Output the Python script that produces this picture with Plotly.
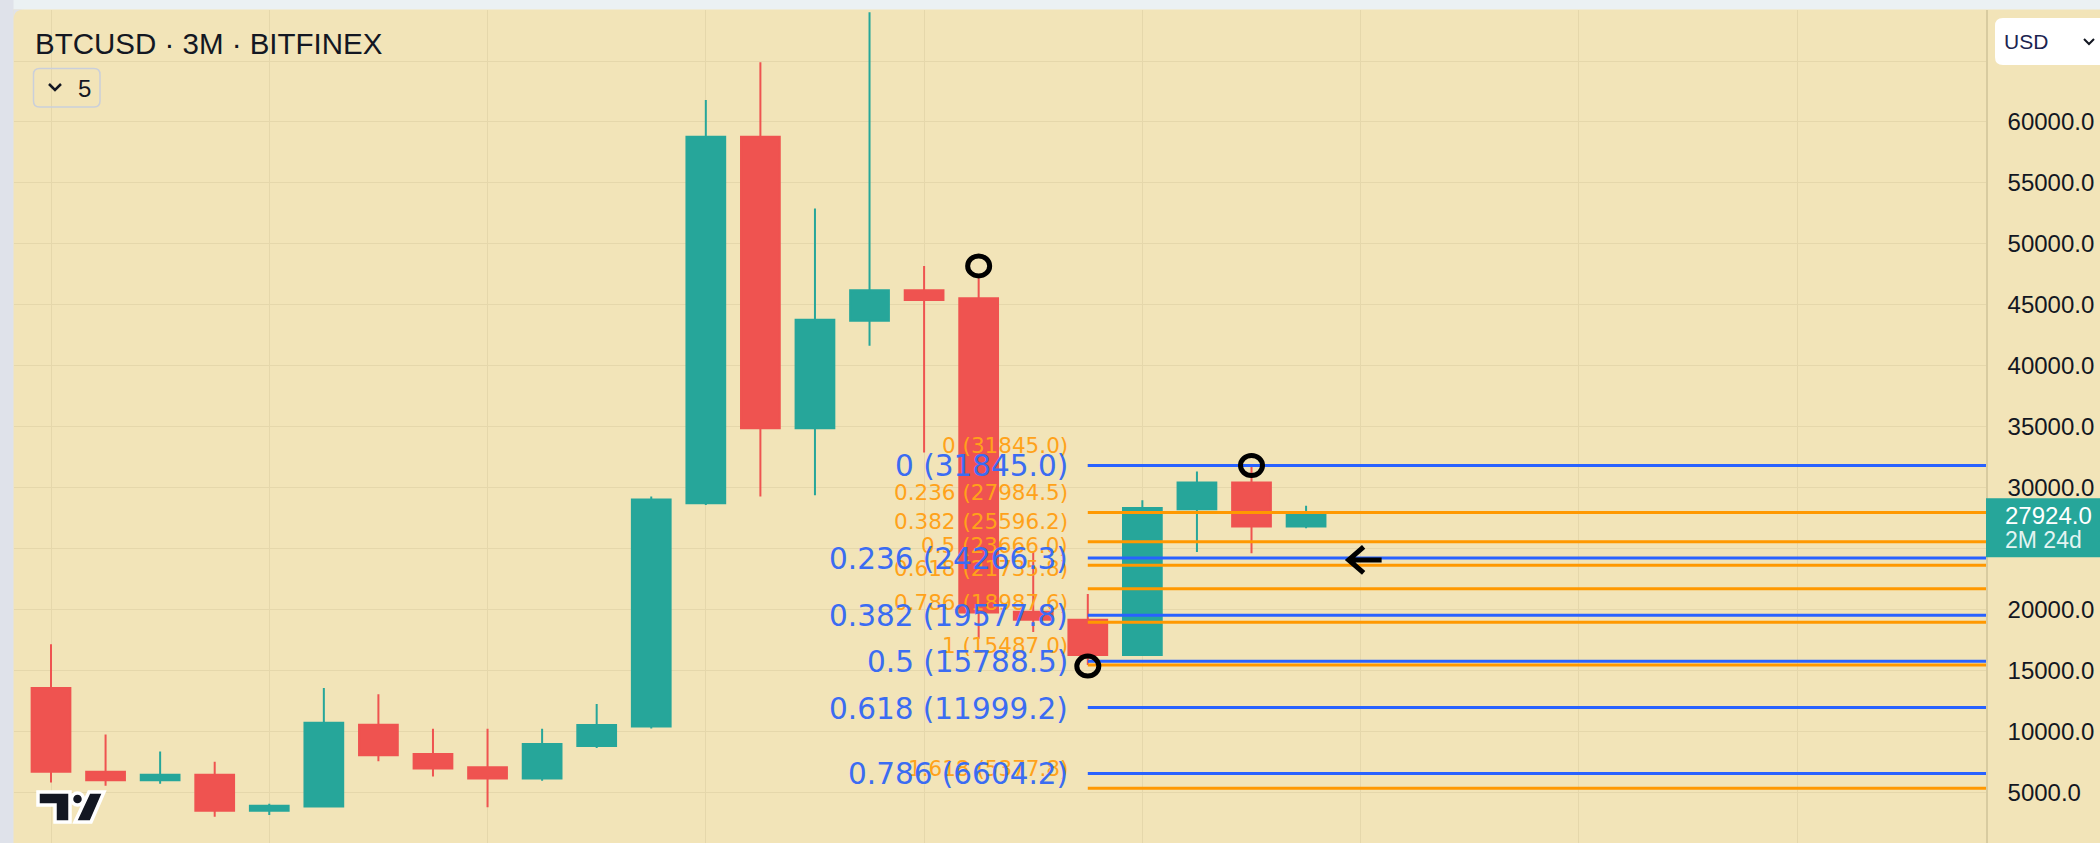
import plotly.graph_objects as go

# ---------------- data ----------------
quarters = ["2018 Q1", "2018 Q2", "2018 Q3", "2018 Q4", "2019 Q1", "2019 Q2", "2019 Q3", "2019 Q4",
            "2020 Q1", "2020 Q2", "2020 Q3", "2020 Q4", "2021 Q1", "2021 Q2", "2021 Q3", "2021 Q4",
            "2022 Q1", "2022 Q2", "2022 Q3", "2022 Q4", "2023 Q1", "2023 Q2", "2023 Q3", "2023 Q4"]
opens = [13600, 6750, 6050, 6500, 3550, 3900, 10600, 8200,
         7100, 6180, 8850, 10450, 28750, 58800, 34900, 43700,
         46200, 45550, 19850, 19200, 16300, 28250, 30450, 26850]
highs = [17200, 9800, 8400, 7550, 4120, 13600, 13100, 10270,
         10270, 10270, 12300, 29300, 61800, 64900, 52900, 69000,
         48200, 47200, 24800, 21300, 29000, 31350, 31845, 28550]
lows = [5850, 5600, 5750, 3050, 3200, 3880, 7600, 6350,
        3830, 6010, 8690, 10280, 28600, 29300, 29400, 41650,
        32900, 17650, 18200, 15487, 16300, 24750, 24650, 26700]
closes = [6750, 6050, 6500, 3550, 3950, 10750, 8100, 7000,
          6180, 9020, 10580, 29050, 58800, 34900, 43800, 46200,
          45400, 19800, 19200, 16300, 28350, 30450, 26850, 27924]
bar_countdown = "2M 24d"

# Fibonacci retracement drawings (ratio label, price level) as printed on the chart
fib_blue_ratios = ["0", "0.236", "0.382", "0.5", "0.618", "0.786"]
fib_blue_levels = [31845.0, 24266.3, 19577.8, 15788.5, 11999.2, 6604.2]
fib_orange_ratios = ["0", "0.236", "0.382", "0.5", "0.618", "0.786", "1", "1.618"]
fib_orange_levels = [31845.0, 27984.5, 25596.2, 23666.0, 21735.8, 18987.6, 15487.0, 5377.8]
fib_anchor_index = 19          # drawing starts at the 2022 Q4 candle

# hand-drawn circle marks (candle index, price)
circle_marks_x = [17, 19, 22]
circle_marks_y = [48200, 15400, 31845]
arrow_mark = (24, 24100)

y_tick_vals = [5000, 10000, 15000, 20000, 25000, 30000, 35000, 40000, 45000, 50000, 55000, 60000, 65000]
y_tick_text = ["5000.0", "10000.0", "15000.0", "20000.0", "25000.0", "30000.0", "35000.0",
               "40000.0", "45000.0", "50000.0", "55000.0", "60000.0", ""]

# ---------------- style ----------------
W, H = 2100, 843
ML, MR, MT, MB = 14, 114, 10, 0
PW, PH = W - ML - MR, H - MT - MB
GREEN, RED = "#26A69A", "#EF5350"
YELLOW = "#F2E4B8"
GRID = "#E5D7AB"
AXLINE = "#D8CBA0"
BLUE, BLUE_TXT = "#2962FF", "#3B6CF2"
ORANGE, ORANGE_TXT = "#FF9800", "#FFA21A"
TXT = "#131722"
X_RANGE = [-0.678, 35.46]
Y_RANGE = [900, 69180]


def px(x):
    return (x - ML) / PW


def py(y):
    return 1 - (y - MT) / PH


def pt(x, y):
    return f"{px(x):.5f},{py(y):.5f}"


def rrect(x0, y0, x1, y1, r):
    return (f"M {pt(x0 + r, y0)} L {pt(x1 - r, y0)} Q {pt(x1, y0)} {pt(x1, y0 + r)} "
            f"L {pt(x1, y1 - r)} Q {pt(x1, y1)} {pt(x1 - r, y1)} L {pt(x0 + r, y1)} "
            f"Q {pt(x0, y1)} {pt(x0, y1 - r)} L {pt(x0, y0 + r)} Q {pt(x0, y0)} {pt(x0 + r, y0)} Z")


def poly(points):
    return "M " + " L ".join(pt(x, y) for x, y in points) + " Z"


xi = list(range(len(quarters)))

fig = go.Figure()
fig.add_trace(go.Candlestick(
    x=xi, open=opens, high=highs, low=lows, close=closes,
    increasing=dict(line=dict(color=GREEN, width=2), fillcolor=GREEN),
    decreasing=dict(line=dict(color=RED, width=2), fillcolor=RED),
    whiskerwidth=0, hoverinfo="skip", showlegend=False, text=quarters,
))

shapes = []
annotations = []

# page frame strips
shapes.append(dict(type="rect", xref="paper", yref="paper", x0=px(0), x1=px(W), y0=py(0), y1=py(9.5),
                   fillcolor="#EBF1F3", line=dict(width=0), layer="above"))
shapes.append(dict(type="rect", xref="paper", yref="paper", x0=px(0), x1=px(13.5), y0=py(0), y1=py(H),
                   fillcolor="#DFE2EA", line=dict(width=0), layer="above"))
shapes.append(dict(type="path", xref="paper", yref="paper",
                   path=f"M {pt(13.5, 20)} L {pt(13.5, 9.5)} L {pt(24, 9.5)} Q {pt(13.5, 9.5)} {pt(13.5, 20)} Z",
                   fillcolor="#DFE2EA", line=dict(width=0), layer="above"))

# fib lines: orange first, blue on top
for lv in fib_orange_levels:
    shapes.append(dict(type="line", xref="x", yref="y", x0=fib_anchor_index, x1=X_RANGE[1], y0=lv, y1=lv,
                       line=dict(color=ORANGE, width=3), layer="above"))
for lv in fib_blue_levels:
    shapes.append(dict(type="line", xref="x", yref="y", x0=fib_anchor_index, x1=X_RANGE[1], y0=lv, y1=lv,
                       line=dict(color=BLUE, width=3), layer="above"))

for r, lv in zip(fib_orange_ratios, fib_orange_levels):
    annotations.append(dict(x=fib_anchor_index, y=lv, xref="x", yref="y", xanchor="right", yanchor="middle",
                            xshift=-18, yshift=20, showarrow=False, text=f"{r} ({lv:.1f})",
                            font=dict(family="DejaVu Sans", size=21.5, color=ORANGE_TXT)))
for r, lv in zip(fib_blue_ratios, fib_blue_levels):
    annotations.append(dict(x=fib_anchor_index, y=lv, xref="x", yref="y", xanchor="right", yanchor="middle",
                            xshift=-18, yshift=-1, showarrow=False, text=f"{r} ({lv:.1f})",
                            font=dict(family="DejaVu Sans", size=29.5, color=BLUE_TXT)))

# hand-drawn circles
for cx, cy in zip(circle_marks_x, circle_marks_y):
    shapes.append(dict(type="circle", xref="x", yref="y", xsizemode="pixel", ysizemode="pixel",
                       xanchor=cx, yanchor=cy, x0=-11, x1=11, y0=-10, y1=10,
                       line=dict(color="black", width=5), fillcolor="rgba(0,0,0,0)", layer="above"))

# hand-drawn arrow
shapes.append(dict(type="path", xref="x", yref="y", xsizemode="pixel", ysizemode="pixel",
                   xanchor=arrow_mark[0], yanchor=arrow_mark[1],
                   path="M 3,13 L -12,0 L 3,-13 M -12,0 L 21,0",
                   line=dict(color="black", width=5), layer="above"))

# last price label
shapes.append(dict(type="rect", xref="paper", yref="y", ysizemode="pixel", yanchor=closes[-1],
                   x0=px(1986), x1=px(W + 5), y0=-44, y1=15,
                   fillcolor=GREEN, line=dict(width=0), layer="above"))
annotations.append(dict(x=px(2003), y=closes[-1], xref="paper", yref="y", xanchor="left", yanchor="middle",
                        yshift=-2, showarrow=False, text=f"{closes[-1]:.1f}",
                        font=dict(family="Liberation Sans", size=24, color="#FFFFFF")))
annotations.append(dict(x=px(2003), y=closes[-1], xref="paper", yref="y", xanchor="left", yanchor="middle",
                        yshift=-27, showarrow=False, text=bar_countdown,
                        font=dict(family="Liberation Sans", size=23, color="#E3F4F2")))

# USD button
shapes.append(dict(type="path", xref="paper", yref="paper", path=rrect(1995, 18, 2112, 65, 8),
                   fillcolor="#FFFFFF", line=dict(width=0), layer="above"))
shapes.append(dict(type="path", xref="paper", yref="paper",
                   path=f"M {pt(2084, 39)} L {pt(2089, 44)} L {pt(2094, 39)}",
                   line=dict(color=TXT, width=2), layer="above"))
annotations.append(dict(x=px(2002), y=py(42), xref="paper", yref="paper", xanchor="left", yanchor="middle",
                        showarrow=False, text="USD", font=dict(family="Liberation Sans", size=21, color="#1B2450")))

# title and indicator toggle
annotations.append(dict(x=px(33), y=py(43), xref="paper", yref="paper", xanchor="left", yanchor="middle",
                        showarrow=False, text="BTCUSD · 3M · BITFINEX",
                        font=dict(family="Liberation Sans", size=29.5, color=TXT)))
shapes.append(dict(type="path", xref="paper", yref="paper", path=rrect(33.5, 68.5, 100, 107, 6),
                   fillcolor="rgba(0,0,0,0)", line=dict(color="#CACFDA", width=1.5), layer="above"))
shapes.append(dict(type="path", xref="paper", yref="paper",
                   path=f"M {pt(49, 84)} L {pt(55, 90)} L {pt(61, 84)}",
                   line=dict(color=TXT, width=2.5), layer="above"))
annotations.append(dict(x=px(84), y=py(88), xref="paper", yref="paper", xanchor="center", yanchor="middle",
                        showarrow=False, text="5", font=dict(family="Liberation Sans", size=24, color=TXT)))

# TradingView logo
logo_style = dict(xref="paper", yref="paper", fillcolor="#131722", line=dict(color="#FFFFFF", width=3.5),
                  layer="above")
shapes.append(dict(type="path", path=poly([(38, 792), (70, 792), (70, 822), (55, 822), (55, 805), (38, 805)]),
                   **logo_style))
shapes.append(dict(type="path", path=poly([(89, 792), (104, 792), (91, 822), (75, 822)]), **logo_style))
shapes.append(dict(type="circle", x0=px(71.5), x1=px(83.5), y0=py(805), y1=py(793), **logo_style))

fig.update_layout(
    width=W, height=H,
    margin=dict(l=ML, r=MR, t=MT, b=MB, pad=0),
    paper_bgcolor=YELLOW, plot_bgcolor=YELLOW,
    boxgap=0.29, boxgroupgap=0,
    showlegend=False,
    shapes=shapes, annotations=annotations,
    xaxis=dict(range=X_RANGE, showticklabels=False, showgrid=True, gridcolor=GRID, gridwidth=1,
               tick0=0, dtick=4, ticks="", zeroline=False, showline=False,
               rangeslider=dict(visible=False), fixedrange=True),
    yaxis=dict(side="right", range=Y_RANGE, tickvals=y_tick_vals, ticktext=y_tick_text,
               showgrid=True, gridcolor=GRID, gridwidth=1, zeroline=False,
               showline=True, linecolor=AXLINE, linewidth=1.5, ticks="", ticklabelstandoff=15,
               tickfont=dict(family="Liberation Sans", size=24, color=TXT), fixedrange=True),
)

fig.write_html("out.html", config={"displayModeBar": False},
               post_script="document.body.style.margin='0px';document.body.style.overflow='hidden';")
